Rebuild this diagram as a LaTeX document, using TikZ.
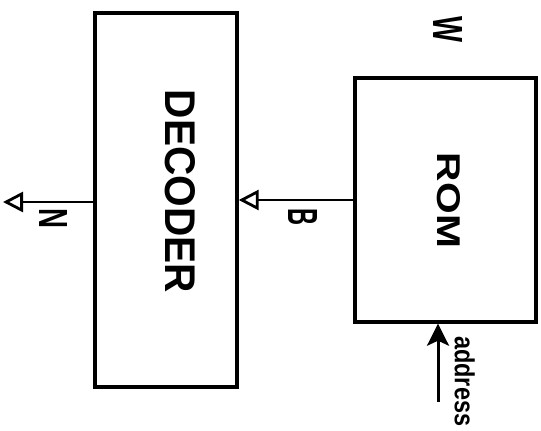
\documentclass[tikz,border=0pt]{standalone}
\usepackage{fontspec}
\setmainfont{Liberation Sans}
\usetikzlibrary{arrows.meta}
\begin{document}
\begin{tikzpicture}[x=1pt,y=-1pt,
  blockbox/.style={draw, line width=3.4pt, rectangle, inner sep=0pt},
  lbl/.style={inner sep=0pt, rotate=-90},
  openarr/.style={line width=2.6pt, -{Triangle[open, length=20pt, width=20pt, line width=2.8pt]}},
  fillarr/.style={line width=3pt, -{Stealth[length=22pt, width=22pt, inset=5pt]}}]
\useasboundingbox (0,0) rectangle (541,431);
\clip (0,0) rectangle (541,431);
\node[blockbox, minimum width=142pt, minimum height=374pt] (dec) at (166,200) {};
\node[blockbox, minimum width=181pt, minimum height=244pt] (rom) at (445.5,200) {};
\node[lbl] (dectxt) at (180,191.5) {\resizebox{203pt}{30pt}{\bfseries DECODER}};
\node[lbl] (romtxt) at (448.5,200.5) {\resizebox{95pt}{23pt}{\bfseries ROM}};
\node[lbl] (ntxt) at (54,218) {\resizebox{20pt}{28pt}{\bfseries N}};
\node[lbl] (btxt) at (302.5,216.5) {\resizebox{17pt}{29pt}{\bfseries B}};
\node[lbl] (wtxt) at (447.5,30) {\resizebox{26pt}{29pt}{\bfseries W}};
\node[lbl, anchor=north west] (addrtxt) at (475,336) {\resizebox{90pt}{20pt}{\bfseries address}};
\coordinate (nend) at (3,202);
\coordinate (addrstart) at (438,402);
\draw[openarr] (rom.west) -- (dec.east);
\draw[openarr] (dec.west |- nend) -- (nend);
\draw[fillarr] (addrstart) -- (addrstart |- rom.south);
\end{tikzpicture}
\end{document}
